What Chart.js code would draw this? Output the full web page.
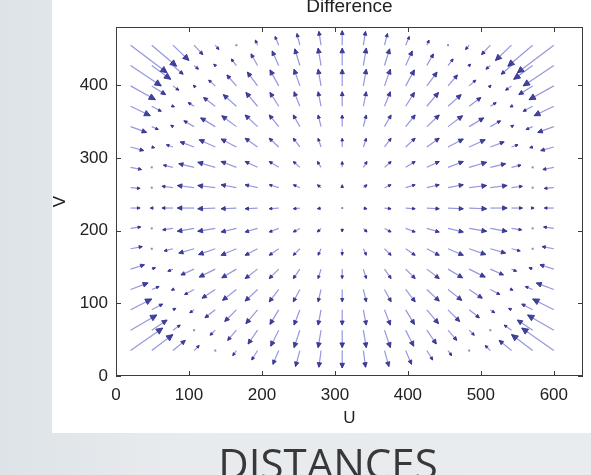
<!DOCTYPE html>
<html>
<head>
<meta charset="utf-8">
<script src="https://cdn.jsdelivr.net/npm/chart.js@4.4.0/dist/chart.umd.min.js"></script>
<style>
  html, body { margin: 0; padding: 0; }
  body {
    width: 591px; height: 475px; overflow: hidden; position: relative;
    background: linear-gradient(90deg, #dde3e8 0%, #e8ebee 30%, #e9ecef 100%);
  }
  #panel { position: absolute; left: 52px; top: 0; width: 539px; height: 433px; background: #fff; }
  #chartBox { position: absolute; left: 0; top: 0; width: 591px; height: 475px; }
  #caption {
    position: absolute; left: 328px; top: 443px; transform: translateX(-50%);
    font-family: 'Open Sans', sans-serif; font-size: 42px; line-height: 40px;
    color: #383838; white-space: nowrap;
  }
</style>
</head>
<body>
<div id="panel"></div>
<div id="chartBox"><canvas id="quiverChart" width="591" height="475"></canvas></div>
<div id="caption">DISTANCES</div>
<script>
// 축 눈금
const xTicks = [0, 100, 200, 300, 400, 500, 600];
const yTicks = [0, 100, 200, 300, 400];

// 격자 위치 (U, V)
const gridU = [20, 49, 78, 107, 136, 165, 194, 223, 252, 281, 310, 339, 368, 397, 426, 455, 484, 513, 542, 571, 600];
const gridV = [35, 63, 91, 119, 147, 175, 203, 231, 259, 287, 315, 343, 371, 399, 427, 455];

// 화살표 성분 (아래 행부터 위 행까지)
const duRows = [
    [44, 29, 17, 7, 0, -5, -8, -8, -6, -3, 0, 3, 6, 8, 8, 5, 0, -7, -17, -29, -44],
    [36, 21, 10, 0, -7, -12, -13, -11, -8, -4, 0, 4, 8, 11, 13, 12, 7, 0, -10, -21, -36],
    [29, 15, 4, -6, -14, -16, -16, -12, -8, -4, 0, 4, 8, 12, 16, 16, 14, 6, -4, -15, -29],
    [24, 10, -2, -13, -18, -19, -17, -13, -9, -4, 0, 4, 9, 13, 17, 19, 18, 13, 2, -10, -24],
    [19, 5, -7, -18, -22, -20, -17, -13, -9, -4, 0, 4, 9, 13, 17, 20, 22, 18, 7, -5, -19],
    [16, 1, -12, -21, -23, -21, -17, -13, -9, -4, 0, 4, 9, 13, 17, 21, 23, 21, 12, -1, -16],
    [14, -1, -14, -23, -24, -21, -17, -13, -9, -5, 0, 5, 9, 13, 17, 21, 24, 23, 14, 1, -14],
    [13, -2, -15, -23, -24, -21, -17, -13, -9, -5, 0, 5, 9, 13, 17, 21, 24, 23, 15, 2, -13],
    [13, -1, -15, -23, -24, -21, -17, -13, -9, -5, 0, 5, 9, 13, 17, 21, 24, 23, 15, 1, -13],
    [15, 1, -13, -21, -24, -21, -17, -13, -9, -5, 0, 5, 9, 13, 17, 21, 24, 21, 13, -1, -15],
    [18, 4, -9, -19, -22, -21, -17, -13, -9, -4, 0, 4, 9, 13, 17, 21, 22, 19, 9, -4, -18],
    [22, 9, -3, -14, -20, -20, -17, -13, -9, -4, 0, 4, 9, 13, 17, 20, 20, 14, 3, -9, -22],
    [27, 13, 2, -8, -16, -18, -16, -12, -8, -4, 0, 4, 8, 12, 16, 18, 16, 8, -2, -13, -27],
    [34, 19, 8, -1, -9, -13, -14, -12, -8, -4, 0, 4, 8, 12, 14, 13, 9, 1, -8, -19, -34],
    [42, 26, 14, 6, -2, -7, -9, -9, -7, -4, 0, 4, 7, 9, 9, 7, 2, -6, -14, -26, -42],
    [50, 34, 22, 12, 5, 0, -3, -5, -4, -3, 0, 3, 4, 5, 3, 0, -5, -12, -22, -34, -50]
];
const dvRows = [
    [31, 22, 14, 7, 0, -7, -13, -19, -22, -23, -24, -23, -22, -19, -13, -7, 0, 7, 14, 22, 31],
    [21, 14, 7, 0, -7, -14, -19, -22, -24, -24, -24, -24, -24, -22, -19, -14, -7, 0, 7, 14, 21],
    [15, 8, 2, -4, -11, -16, -19, -20, -21, -21, -21, -21, -21, -20, -19, -16, -11, -4, 2, 8, 15],
    [9, 4, -1, -7, -12, -15, -16, -17, -17, -17, -17, -17, -17, -17, -16, -15, -12, -7, -1, 4, 9],
    [6, 2, -3, -8, -11, -12, -13, -13, -13, -13, -13, -13, -13, -13, -13, -12, -11, -8, -3, 2, 6],
    [3, 0, -3, -6, -8, -9, -9, -9, -9, -9, -9, -9, -9, -9, -9, -9, -8, -6, -3, 0, 3],
    [2, 0, -2, -4, -4, -5, -5, -5, -5, -5, -5, -5, -5, -5, -5, -5, -4, -4, -2, 0, 2],
    [0, 0, 0, 0, -1, -1, -1, -1, -1, -1, -1, -1, -1, -1, -1, -1, -1, 0, 0, 0, 0],
    [-1, 0, 2, 3, 3, 4, 4, 4, 4, 4, 4, 4, 4, 4, 4, 4, 3, 3, 2, 0, -1],
    [-3, 0, 3, 5, 7, 8, 8, 8, 8, 8, 8, 8, 8, 8, 8, 8, 7, 5, 3, 0, -3],
    [-5, -1, 3, 7, 10, 11, 12, 12, 12, 12, 12, 12, 12, 12, 12, 11, 10, 7, 3, -1, -5],
    [-8, -4, 2, 8, 12, 15, 16, 16, 16, 16, 16, 16, 16, 16, 16, 15, 12, 8, 2, -4, -8],
    [-13, -7, -1, 5, 12, 16, 19, 19, 20, 20, 20, 20, 20, 19, 19, 16, 12, 5, -1, -7, -13],
    [-19, -12, -6, 1, 8, 15, 19, 22, 23, 23, 23, 23, 23, 22, 19, 15, 8, 1, -6, -12, -19],
    [-28, -19, -12, -5, 2, 9, 16, 20, 23, 24, 24, 24, 23, 20, 16, 9, 2, -5, -12, -19, -28],
    [-38, -29, -21, -13, -6, 1, 7, 12, 16, 19, 20, 19, 16, 12, 7, 1, -6, -13, -21, -29, -38]
];

const fontFamily = "'Liberation Sans', Arial, sans-serif";

// 화살표 시작점 데이터
const points = [];
gridV.forEach((v, j) => {
    gridU.forEach((u, i) => {
        points.push({ x: u, y: v, du: duRows[j][i], dv: dvRows[j][i] });
    });
});

// 화살표 그리기
const quiverPlugin = {
    id: 'quiver',
    afterDatasetsDraw(chart) {
        const { ctx, chartArea } = chart;
        const xs = chart.scales.x, ys = chart.scales.y;
        ctx.save();
        ctx.beginPath();
        ctx.rect(chartArea.left, chartArea.top, chartArea.width, chartArea.height);
        ctx.clip();
        chart.data.datasets[0].data.forEach(p => {
            const x0 = xs.getPixelForValue(p.x), y0 = ys.getPixelForValue(p.y);
            const x1 = xs.getPixelForValue(p.x + p.du), y1 = ys.getPixelForValue(p.y + p.dv);
            const len = Math.hypot(x1 - x0, y1 - y0);
            if (len < 1) {
                ctx.fillStyle = 'rgba(60, 60, 150, 0.6)';
                ctx.fillRect(x0 - 1, y0 - 1, 2, 2);
                return;
            }
            const a = Math.atan2(y1 - y0, x1 - x0);
            const h = Math.min(Math.max(3, len * 0.3), 7);
            const w = 0.45;
            // 몸통
            ctx.strokeStyle = 'rgba(80, 80, 200, 0.6)';
            ctx.lineWidth = 1.2;
            ctx.beginPath();
            ctx.moveTo(x0, y0);
            ctx.lineTo(x1, y1);
            ctx.stroke();
            // 머리
            ctx.fillStyle = 'rgba(45, 45, 140, 0.85)';
            ctx.strokeStyle = 'rgba(45, 45, 140, 0.85)';
            ctx.lineWidth = 1;
            ctx.beginPath();
            ctx.moveTo(x1, y1);
            ctx.lineTo(x1 - h * Math.cos(a - w), y1 - h * Math.sin(a - w));
            ctx.lineTo(x1 - h * Math.cos(a + w), y1 - h * Math.sin(a + w));
            ctx.closePath();
            ctx.fill();
            ctx.stroke();
        });
        ctx.restore();
    }
};

// 축 상자, 안쪽 눈금, 제목
const boxPlugin = {
    id: 'box',
    afterDraw(chart) {
        const { ctx, chartArea } = chart;
        const xs = chart.scales.x, ys = chart.scales.y;
        const { left, right, top, bottom } = chartArea;
        ctx.save();
        ctx.strokeStyle = '#3c3c3c';
        ctx.lineWidth = 1;
        ctx.strokeRect(left + 0.5, top + 0.5, right - left - 1, bottom - top - 1);
        ctx.beginPath();
        xTicks.forEach(t => {
            const px = Math.round(xs.getPixelForValue(t)) + 0.5;
            ctx.moveTo(px, bottom); ctx.lineTo(px, bottom - 5);
            ctx.moveTo(px, top); ctx.lineTo(px, top + 5);
        });
        yTicks.forEach(t => {
            const py = Math.round(ys.getPixelForValue(t)) + 0.5;
            ctx.moveTo(left, py); ctx.lineTo(left + 5, py);
            ctx.moveTo(right, py); ctx.lineTo(right - 5, py);
        });
        ctx.stroke();
        ctx.fillStyle = '#222';
        ctx.font = '19px ' + fontFamily;
        ctx.textAlign = 'center';
        ctx.textBaseline = 'alphabetic';
        ctx.fillText('Difference', (left + right) / 2, 12);
        ctx.restore();
    }
};

const ctx = document.getElementById('quiverChart').getContext('2d');
const quiverChart = new Chart(ctx, {
    type: 'scatter',
    data: {
        datasets: [{
            label: 'Difference',
            data: points,
            pointRadius: 0,
            showLine: false
        }]
    },
    options: {
        responsive: false,
        animation: false,
        devicePixelRatio: 1,
        layout: { padding: { left: 0, right: 8, top: 27, bottom: 0 } },
        scales: {
            x: {
                type: 'linear',
                min: 0,
                max: 640,
                afterBuildTicks: s => { s.ticks = xTicks.map(v => ({ value: v })); },
                afterFit: s => { s.height = 99; },
                grid: { display: false, drawTicks: false },
                border: { display: false },
                ticks: { autoSkip: false, maxRotation: 0, padding: 9, color: '#222', font: { family: fontFamily, size: 17 } },
                title: { display: true, text: 'U', color: '#222', font: { family: fontFamily, size: 17 }, padding: { top: 0, bottom: 46 } }
            },
            y: {
                type: 'linear',
                min: 0,
                max: 480,
                afterBuildTicks: s => { s.ticks = yTicks.map(v => ({ value: v })); },
                afterFit: s => { s.width = 116; },
                grid: { display: false, drawTicks: false },
                border: { display: false },
                ticks: { autoSkip: false, padding: 8, color: '#222', font: { family: fontFamily, size: 17 } },
                title: { display: true, text: 'V', color: '#222', font: { family: fontFamily, size: 17 }, padding: { top: 50, bottom: 0 } }
            }
        },
        plugins: {
            legend: { display: false },
            tooltip: { enabled: false }
        }
    },
    plugins: [quiverPlugin, boxPlugin]
});
</script>
</body>
</html>
